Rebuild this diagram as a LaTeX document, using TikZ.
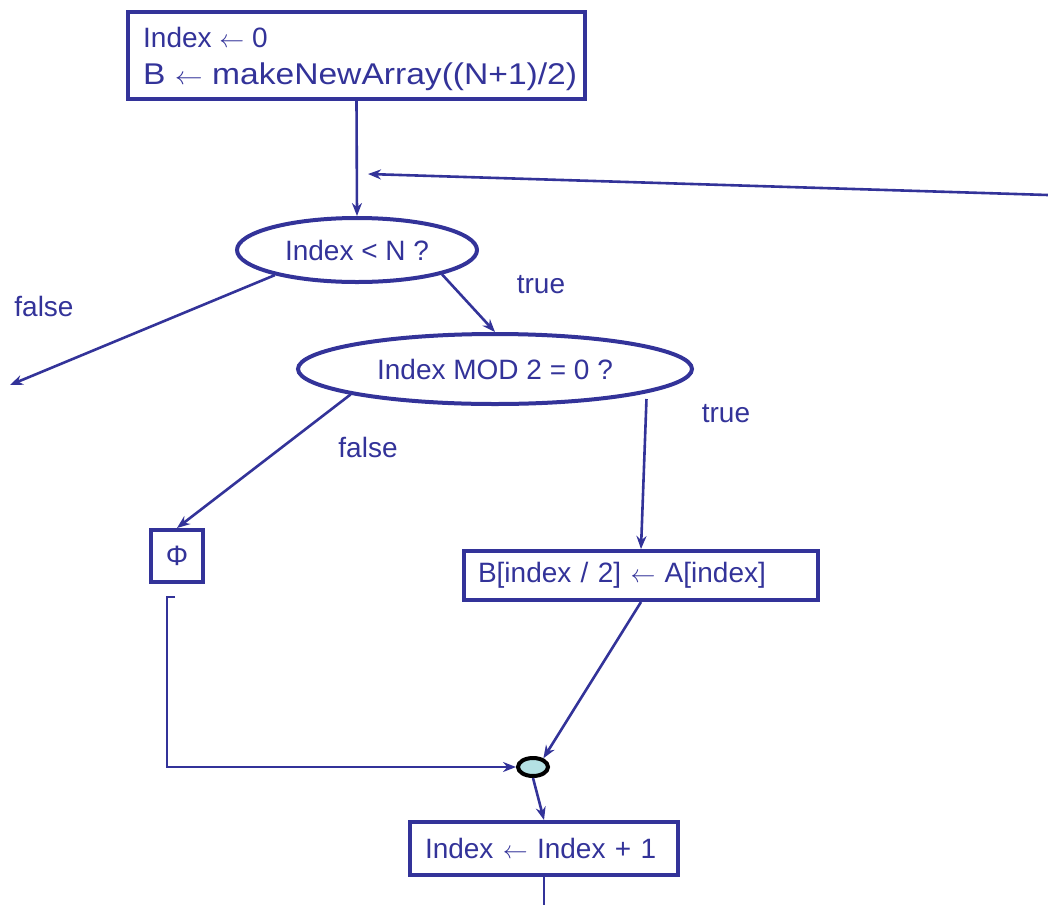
\documentclass[tikz,border=0pt]{standalone}
\usepackage{fontspec}
\setmainfont{Liberation Sans}
\usetikzlibrary{shapes.geometric,arrows.meta}
\definecolor{fc}{RGB}{51,51,153}
\definecolor{jfill}{RGB}{180,225,228}
\tikzset{
  box/.style={draw=fc,line width=4pt,rectangle,inner sep=0pt,text=fc},
  dec/.style={draw=fc,line width=4pt,ellipse,inner sep=0pt,text=fc},
  conn/.style={draw=fc,line width=2.6pt,-{Stealth[length=13pt,width=10pt]}},
  plain/.style={draw=fc,line width=2.6pt},
  lbl/.style={text=fc,inner sep=0pt},
}
\begin{document}
\begin{tikzpicture}[x=1pt,y=-1pt,font=\fontsize{28}{38}\selectfont]
\useasboundingbox (0,0) rectangle (1048,905);
\node[box,minimum width=457pt,minimum height=87pt] (b1) at (356.5,55.5) {};
\node[lbl,anchor=base west] (b1a) at (143,47) {Index $\leftarrow$ 0};
\node[lbl,anchor=base west] (b1b) at (143,84.5) {\fontsize{30}{36}\selectfont\scalebox{1.12}[1]{B $\leftarrow$ makeNewArray((N+1)/2)}};
\node[dec,minimum width=240pt,minimum height=64pt] (e1) at (357,250) {Index < N ?};
\node[dec,minimum width=394pt,minimum height=70pt] (e2) at (495,369) {Index MOD 2 = 0 ?};
\node[box,minimum width=52pt,minimum height=52pt] (phi) at (177,556) {Φ};
\node[box,minimum width=354pt,minimum height=49pt,text width=326pt,align=left] (bb) at (641,575.5)
  {B[index / 2] $\leftarrow$ A[index]};
\node[draw=black,line width=4pt,fill=jfill,ellipse,minimum width=30pt,minimum height=18pt,inner sep=0pt] (c) at (533,767) {};
\node[box,minimum width=268pt,minimum height=53pt,text width=238pt,align=left] (b3) at (544,848.5)
  {Index $\leftarrow$ Index + 1};

\coordinate (retS) at (1048,195);
\coordinate (retE) at (368,174);
\coordinate (exitF) at (10,385);
\coordinate (phiB) at (175,597);
\coordinate (loopE) at (544,905);

\draw[conn] (b1.south) -- (e1.north);
\draw[conn] (retS) -- (retE);
\draw[conn] (e1.197) -- (exitF);
\draw[conn] (e1.-16) -- (e2.north);
\draw[conn] (e2.190) -- (phi.north);
\draw[conn] ([yshift=-6pt]e2.-9.7) -- (bb.north);
\draw[conn] (phiB) -- ++(-8,0) |- (c.west);
\draw[conn] (bb.south) -- (c.40);
\draw[conn] (c.south) -- (b3.north);
\draw[plain] (b3.south) -- (loopE);

\node[lbl] (lf1) at (44,306) {false};
\node[lbl] (lt1) at (541,285) {true};
\node[lbl] (lt2) at (726,414) {true};
\node[lbl] (lf2) at (368,447) {false};
\end{tikzpicture}
\end{document}
